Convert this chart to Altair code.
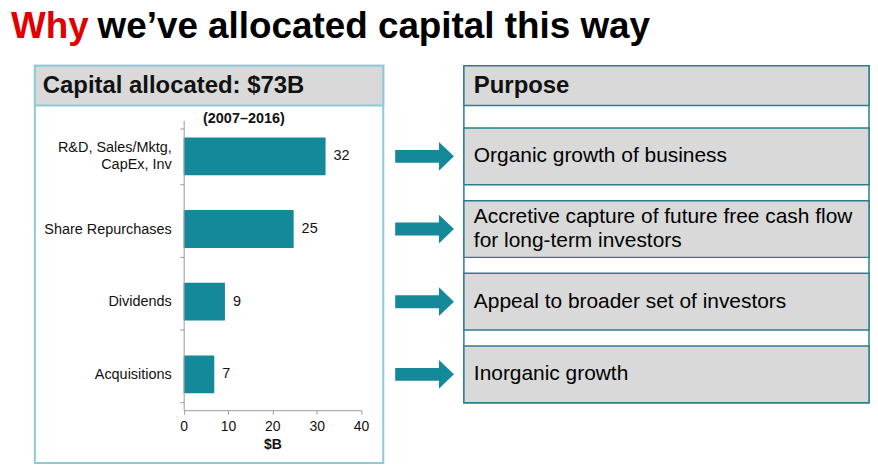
import altair as alt
import pandas as pd

# ---------------- data ----------------
categories = ["R&D, Sales/Mktg,\nCapEx, Inv", "Share Repurchases", "Dividends", "Acquisitions"]
values = [32.0, 24.8, 9.3, 6.9]
purposes = [
    "Organic growth of business",
    "Accretive capture of future free cash flow\nfor long-term investors",
    "Appeal to broader set of investors",
    "Inorganic growth",
]
x_ticks = [0, 10, 20, 30, 40]
title_lead = "Why"
title_rest = "we\u2019ve allocated capital this way"
left_title = "Capital allocated: $73B"
left_sub = "(2007\u20132016)"
right_title = "Purpose"
x_title = "$B"

df = pd.DataFrame({"category": categories, "value": values, "purpose": purposes})

# ---------------- styles ----------------
FONT = "Liberation Sans"
TEAL = "#13899a"
RED = "#e00000"
GRAY = "#d9d9d9"
LIGHT_BORDER = "#8ccad4"
DARK_BORDER = "#2a7f8c"
AXIS_GRAY = "#9a9a9a"
TXT = "#111111"
ARROW = "M -1 -0.22 L 0.49 -0.22 L 0.49 -0.49 L 1 0 L 0.49 0.49 L 0.49 0.22 L -1 0.22 Z"
HAS_BREAK = "indexof(datum.purpose, '\\n') >= 0"
NO_BREAK = "indexof(datum.purpose, '\\n') < 0"

one = alt.Data(values=[{}])


def box(x, x2, y, y2, fill, stroke, sw):
    return alt.Chart(one).mark_rect(fill=fill, stroke=stroke, strokeWidth=sw).encode(
        x=alt.value(x), x2=alt.value(x2), y=alt.value(y), y2=alt.value(y2)
    )


def label(txt, x, y, size, color=TXT, weight="normal", align="left", baseline="middle"):
    return alt.Chart(one).mark_text(
        text=txt, font=FONT, fontSize=size, fontWeight=weight, color=color,
        align=align, baseline=baseline
    ).encode(x=alt.value(x), y=alt.value(y))


xenc = alt.X(
    "value:Q",
    scale=alt.Scale(domain=[0, 40], range=[176.5, 354.7], nice=False, zero=True),
    axis=alt.Axis(
        values=x_ticks, grid=False, tickSize=4, labelPadding=5, zindex=2,
        labelFontSize=14, labelFont=FONT, labelColor=TXT, labelFlush=False,
        domainColor=AXIS_GRAY, tickColor=AXIS_GRAY,
        title=x_title, titleFont=FONT, titleFontSize=14, titleFontWeight="bold",
        titleColor=TXT, titlePadding=4,
    ),
)
yenc = alt.Y(
    "category:N",
    sort=categories,
    scale=alt.Scale(domain=categories, range=[112, 403], paddingInner=0.22, paddingOuter=0.103),
    axis=alt.Axis(
        title=None, offset=-176.5, tickSize=4, labelPadding=8.5, tickBand="extent", zindex=2,
        labelFontSize=14.5, labelFont=FONT, labelColor=TXT, labelLineHeight=17,
        labelExpr="split(datum.label, '\\n')", labelLimit=300,
        labelOffset={"condition": {"test": "indexof(datum.label, '\\n') >= 0", "value": -8.5}, "value": 0},
        domainColor=AXIS_GRAY, tickColor=AXIS_GRAY, grid=False,
    ),
)

purpose_style = dict(align="left", baseline="middle", font=FONT, fontSize=21,
                     lineBreak="\n", lineHeight=24, color="#000000")

layers = [
    # title
    label(title_lead, 3, 29, 37, color=RED, weight="bold", baseline="alphabetic"),
    label(title_rest, 90, 29, 37, color="#000000", weight="bold", baseline="alphabetic"),
    # left panel
    box(27, 377, 57, 456, "#ffffff", LIGHT_BORDER, 2),
    box(27, 377, 57, 97, GRAY, LIGHT_BORDER, 2),
    label(left_title, 35, 77.5, 24, weight="bold"),
    label(left_sub, 237, 110, 14.5, weight="bold", align="center"),
    # right panel
    box(458, 865, 57, 395.5, "#ffffff", DARK_BORDER, 1.5),
    box(458, 865, 57, 97, GRAY, DARK_BORDER, 1.5),
    label(right_title, 468, 77.5, 24, weight="bold"),
    alt.Chart(df).mark_rect(fill=GRAY, stroke=DARK_BORDER, strokeWidth=1.5).encode(
        x=alt.value(458), x2=alt.value(865), y=yenc
    ),
    alt.Chart(df).transform_filter(NO_BREAK).mark_text(**purpose_style).encode(
        x=alt.value(468), y=yenc, text="purpose:N"
    ),
    alt.Chart(df).transform_filter(HAS_BREAK).mark_text(dy=-12, **purpose_style).encode(
        x=alt.value(468), y=yenc, text="purpose:N"
    ),
    # bars
    alt.Chart(df).mark_bar(size=38, color=TEAL).encode(x=xenc, y=yenc),
    alt.Chart(df).mark_text(
        align="left", baseline="middle", dx=8, font=FONT, fontSize=14.5, color=TXT
    ).encode(x=xenc, y=yenc, text=alt.Text("value:Q", format=".0f")),
    # arrows
    alt.Chart(df).mark_point(
        shape=ARROW, filled=True, size=3481, color=TEAL, opacity=1, strokeWidth=0
    ).encode(x=alt.value(418.5), y=yenc),
]

chart = (
    alt.layer(*layers)
    .properties(
        width=866, height=403,
        autosize=alt.AutoSizeParams(type="none"),
        padding={"left": 0, "top": 0, "right": 0, "bottom": 55},
        background="#ffffff",
    )
    .configure_view(stroke=None, strokeWidth=0)
)

chart.save("out.html", embed_options={"renderer": "svg", "actions": False})
